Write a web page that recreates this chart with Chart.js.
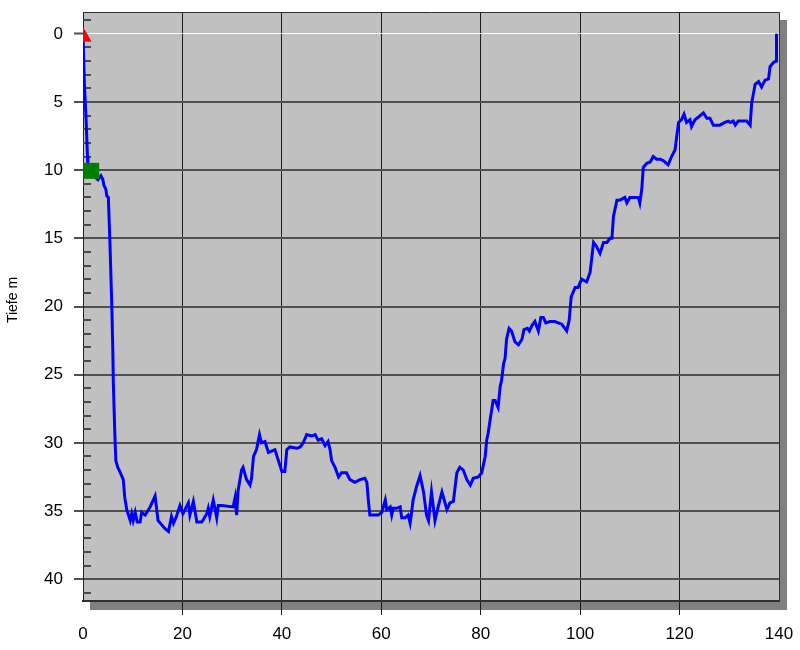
<!DOCTYPE html>
<html>
<head>
<meta charset="utf-8">
<script src="https://cdn.jsdelivr.net/npm/chart.js@4/dist/chart.umd.min.js"></script>
<style>
  html, body { margin: 0; padding: 0; background: #ffffff; }
  #wrap { width: 800px; height: 650px; }
</style>
</head>
<body>
<div id="wrap"><canvas id="tauchprofil" width="800" height="650"></canvas></div>
<script>
// Tauchzeit in Minuten
var zeit = [0, 0.3, 0.6, 0.9, 1.0, 3.0, 3.6, 4.0, 4.2, 4.6, 4.8, 5.1, 5.4, 5.8, 6.0, 6.1, 6.4, 6.6, 7.0, 7.4,
    8.1, 8.4, 8.8, 9.5, 9.8, 10.1, 10.5, 10.9, 11.5, 11.8, 12.5, 13.5, 14.5, 15.1, 15.8, 16.5, 17.2, 17.8, 18.2, 18.8,
    19.5, 20.1, 21.2, 21.5, 22.2, 22.9, 23.9, 24.9, 25.2, 25.5, 26.2, 26.9, 27.2, 27.9, 30.2, 30.6, 30.9, 31.2, 31.9, 32.2,
    32.9, 33.6, 33.9, 34.3, 34.9, 35.5, 35.9, 36.6, 37.3, 38.6, 39.3, 40.0, 40.6, 41.0, 41.6, 43.0, 43.7, 44.3, 45.0, 46.0,
    46.7, 47.3, 48.0, 48.7, 49.3, 49.7, 50.0, 50.7, 51.4, 52.0, 53.0, 53.7, 54.7, 55.7, 56.7, 57.1, 57.4, 57.7, 59.4, 60.1,
    60.8, 61.1, 61.8, 62.1, 62.4, 63.1, 63.8, 64.1, 64.8, 65.4, 65.8, 66.1, 66.4, 67.1, 67.8, 68.5, 69.1, 69.5, 70.1, 70.8,
    71.5, 72.2, 73.2, 73.8, 74.5, 75.2, 75.8, 76.5, 77.2, 77.9, 78.5, 79.5, 80.2, 80.9, 81.2, 81.5, 81.9, 82.2, 82.5, 82.9,
    83.5, 83.9, 84.2, 84.6, 84.9, 85.2, 85.7, 86.2, 86.9, 87.6, 88.3, 88.7, 89.4, 89.8, 90.3, 90.9, 91.6, 92.1, 92.6, 93.1,
    93.9, 94.9, 95.6, 96.3, 97.3, 97.8, 98.2, 99.0, 99.6, 100.3, 101.3, 102.0, 102.7, 103.3, 104.0, 104.7, 105.4, 106.0, 106.4, 106.7,
    107.4, 108.0, 109.0, 109.4, 110.0, 110.7, 111.7, 112.0, 112.4, 112.7, 113.4, 114.1, 114.7, 115.4, 116.1, 116.7, 117.7, 118.4, 119.1, 119.4,
    119.8, 120.4, 120.9, 121.4, 122.1, 122.4, 123.1, 123.8, 124.8, 125.5, 126.1, 126.8, 128.1, 129.1, 129.8, 130.2, 130.8, 131.2, 131.8, 133.5,
    134.2, 134.5, 135.2, 135.9, 136.5, 137.2, 137.9, 138.2, 138.9, 139.4, 139.5, 139.6];

// Tiefe in Metern
var tiefe = [0, 3.9, 6.1, 9.0, 10.0, 10.7, 10.4, 10.7, 11.1, 11.4, 11.9, 12.0, 15.1, 20.0, 23.2, 25.6, 29.3, 31.3, 31.8, 32.1,
    32.7, 34.0, 34.9, 35.7, 35.2, 35.7, 35.1, 35.8, 35.8, 35.1, 35.3, 34.7, 33.9, 35.7, 36.0, 36.3, 36.5, 35.4, 35.9, 35.4,
    34.6, 35.2, 34.4, 35.3, 34.3, 35.8, 35.8, 35.2, 34.8, 35.4, 34.2, 35.5, 34.6, 34.6, 34.7, 34.0, 35.3, 33.5, 32.0, 31.8,
    32.7, 33.1, 32.6, 31.0, 30.5, 29.4, 30.0, 29.9, 30.7, 30.5, 31.3, 32.1, 32.1, 30.5, 30.3, 30.4, 30.3, 30.0, 29.4, 29.5,
    29.4, 29.8, 29.7, 30.2, 29.9, 30.5, 31.3, 31.8, 32.5, 32.2, 32.2, 32.7, 32.9, 32.7, 32.6, 32.9, 34.2, 35.3, 35.3, 35.1,
    34.2, 34.9, 34.7, 35.3, 34.8, 34.8, 34.7, 35.5, 35.5, 35.3, 35.9, 35.1, 34.2, 33.2, 32.4, 33.6, 35.3, 35.7, 33.6, 35.7,
    34.6, 33.6, 34.9, 34.4, 34.3, 32.2, 31.8, 32.0, 32.7, 33.1, 32.6, 32.5, 32.2, 31.0, 29.8, 29.3, 28.3, 27.6, 26.9, 26.9,
    27.4, 25.9, 25.4, 24.2, 23.8, 22.4, 21.6, 21.8, 22.6, 22.8, 22.4, 21.7, 21.6, 21.8, 21.4, 21.1, 21.8, 20.8, 20.8, 21.2,
    21.1, 21.1, 21.2, 21.3, 21.8, 21.0, 19.3, 18.6, 18.6, 18.0, 18.2, 17.5, 15.3, 15.6, 16.1, 15.3, 15.3, 15.0, 15.0, 13.4,
    12.2, 12.2, 12.0, 12.4, 12.0, 12.0, 12.0, 12.4, 11.4, 9.8, 9.5, 9.4, 9.0, 9.2, 9.2, 9.3, 9.6, 9.0, 8.5, 7.6,
    6.5, 6.3, 5.9, 6.5, 6.3, 6.8, 6.3, 6.1, 5.8, 6.2, 6.2, 6.7, 6.7, 6.5, 6.4, 6.5, 6.4, 6.7, 6.4, 6.4,
    6.7, 5.1, 3.7, 3.5, 3.9, 3.4, 3.3, 2.4, 2.1, 2.0, 0.1, 0];

// Markierungen: Start (Dreieck) und Sicherheitsstopp-Marke (Quadrat)
var startZeit = [0];
var startTiefe = [0.22];
var markeZeit = [1.65];
var markeTiefe = [10.05];

var tiefenTicks = [0, 5, 10, 15, 20, 25, 30, 35, 40];
var zeitTicks = [0, 20, 40, 60, 80, 100, 120, 140];

var SCHRIFT = '"Liberation Sans", Arial, sans-serif';

function punkte(xs, ys) {
    return xs.map(function (x, i) { return { x: x, y: ys[i] }; });
}

// Hintergrund, Schatten, Rahmen, kleine Teilstriche und Achsentitel
var rahmenPlugin = {
    id: 'rahmen',
    beforeDraw: function (chart) {
        var ctx = chart.ctx;
        var a = chart.chartArea;
        ctx.save();
        ctx.fillStyle = '#ffffff';
        ctx.fillRect(0, 0, chart.width, chart.height);
        // Schatten
        ctx.fillStyle = '#808080';
        ctx.fillRect(a.left + 7, a.top + 8, a.right - a.left + 1, a.bottom - a.top + 1);
        // Plotfläche
        ctx.fillStyle = '#c0c0c0';
        ctx.fillRect(a.left, a.top, a.right - a.left, a.bottom - a.top);
        ctx.restore();
    },
    beforeDatasetsDraw: function (chart) {
        var ctx = chart.ctx;
        var a = chart.chartArea;
        var y = chart.scales.y;
        ctx.save();
        // kleine Teilstriche innen (jeder Meter)
        ctx.strokeStyle = '#4a4a4a';
        ctx.lineWidth = 2;
        for (var m = -1; m <= 41; m++) {
            if (m % 5 === 0) continue;
            var py = Math.round(y.getPixelForValue(m));
            ctx.beginPath();
            ctx.moveTo(a.left, py);
            ctx.lineTo(a.left + 8, py);
            ctx.stroke();
        }
        // Rahmen oben / rechts
        ctx.strokeStyle = '#303030';
        ctx.lineWidth = 1;
        ctx.beginPath();
        ctx.moveTo(a.left, a.top + 0.5);
        ctx.lineTo(a.right + 0.5, a.top + 0.5);
        ctx.lineTo(a.right + 0.5, a.bottom);
        ctx.stroke();
        // Achsentitel
        ctx.translate(13, 300);
        ctx.rotate(-Math.PI / 2);
        ctx.fillStyle = '#000000';
        ctx.font = '14px ' + SCHRIFT;
        ctx.textAlign = 'center';
        ctx.textBaseline = 'middle';
        ctx.fillText('Tiefe m', 0, 0);
        ctx.restore();
    }
};

var init = function () {
    var ctx = document.getElementById('tauchprofil').getContext('2d');
    new Chart(ctx, {
        type: 'line',
        data: {
            datasets: [{
                label: 'Start',
                data: punkte(startZeit, startTiefe),
                showLine: false,
                pointStyle: 'triangle',
                pointRadius: 10,
                pointBackgroundColor: '#ff0000',
                pointBorderWidth: 0,
                clip: 0,
                order: 0
            }, {
                label: 'Marke',
                data: punkte(markeZeit, markeTiefe),
                showLine: false,
                pointStyle: 'rect',
                pointRadius: 11.3,
                pointBackgroundColor: '#008000',
                pointBorderWidth: 0,
                clip: 0,
                order: 1
            }, {
                label: 'Tiefe',
                data: punkte(zeit, tiefe),
                borderColor: '#0000ff',
                borderWidth: 3,
                pointRadius: 0,
                tension: 0,
                fill: false,
                order: 2
            }]
        },
        options: {
            responsive: false,
            animation: false,
            events: [],
            layout: { padding: { top: 12, right: 21, bottom: 0, left: 0 } },
            plugins: {
                legend: { display: false },
                tooltip: { enabled: false },
                title: { display: false }
            },
            scales: {
                x: {
                    type: 'linear',
                    min: 0,
                    max: 140,
                    afterBuildTicks: function (scale) {
                        scale.ticks = zeitTicks.map(function (v) { return { value: v }; });
                    },
                    afterFit: function (scale) {
                        scale.height = 49;
                        scale.paddingLeft = 0;
                        scale.paddingRight = 0;
                    },
                    grid: {
                        color: function (c) {
                            var v = c.tick ? c.tick.value : null;
                            return (v === 0 || v === 140) ? 'rgba(0,0,0,0)' : '#1a1a1a';
                        },
                        lineWidth: 1,
                        drawTicks: true,
                        tickLength: 14,
                        tickColor: function (c) {
                            var v = c.tick ? c.tick.value : null;
                            return (v === 0 || v === 140) ? 'rgba(0,0,0,0)' : '#1a1a1a';
                        }
                    },
                    border: { display: true, color: '#303030', width: 2 },
                    ticks: {
                        autoSkip: false,
                        maxRotation: 0,
                        padding: 9,
                        color: '#000000',
                        font: { family: SCHRIFT, size: 17 }
                    }
                },
                y: {
                    type: 'linear',
                    reverse: true,
                    min: -1.6,
                    max: 41.6,
                    afterBuildTicks: function (scale) {
                        scale.ticks = tiefenTicks.map(function (v) { return { value: v }; });
                    },
                    afterFit: function (scale) {
                        scale.width = 83;
                        scale.paddingTop = 0;
                        scale.paddingBottom = 0;
                    },
                    grid: {
                        color: function (c) {
                            return (c.tick && c.tick.value === 0) ? '#ffffff' : '#505050';
                        },
                        lineWidth: function (c) {
                            return (c.tick && c.tick.value === 0) ? 1 : 2;
                        },
                        drawTicks: true,
                        tickLength: 9,
                        tickColor: '#505050',
                        tickWidth: 2
                    },
                    border: { display: true, color: '#202020', width: 1 },
                    ticks: {
                        autoSkip: false,
                        padding: 11,
                        color: '#000000',
                        font: { family: SCHRIFT, size: 17 }
                    }
                }
            }
        },
        plugins: [rahmenPlugin]
    });
};

init();
</script>
</body>
</html>
